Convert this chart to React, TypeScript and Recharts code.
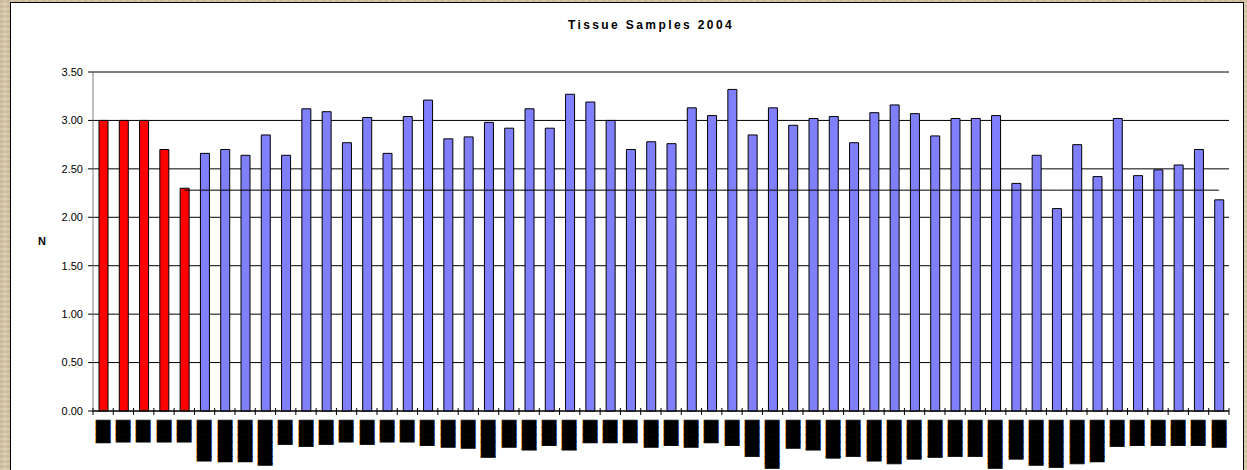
import React from 'react';
import { ComposedChart, Bar, Line, XAxis, YAxis, CartesianGrid, Cell, Label } from 'recharts';

const chartTitle = 'Tissue Samples 2004';
const yAxisTitle = 'N';

// Control samples (red)
const controlValues = [3.0, 3.0, 3.0, 2.7, 2.3];
// Tissue samples (blue)
const sampleValues = [
  2.66, 2.70, 2.64, 2.85, 2.64, 3.12, 3.09, 2.77, 3.03, 2.66,
  3.04, 3.21, 2.81, 2.83, 2.98, 2.92, 3.12, 2.92, 3.27, 3.19,
  3.00, 2.70, 2.78, 2.76, 3.13, 3.05, 3.32, 2.85, 3.13, 2.95,
  3.02, 3.04, 2.77, 3.08, 3.16, 3.07, 2.84, 3.02, 3.02, 3.05,
  2.35, 2.64, 2.09, 2.75, 2.42, 3.02, 2.43, 2.49, 2.54, 2.70,
  2.18,
];
// Threshold line value
const thresholdValue = 2.28;
const yTicks = [0, 0.5, 1, 1.5, 2, 2.5, 3, 3.5];

// Category labels: the original labels are rendered as solid black glyph blocks
const xLabels = [
  '███▏', '███', '███', '███', '███',
  '█████▋', '█████▊', '█████▊', '██████▎', '███▍', '███▋', '███▍', '███', '███▍', '███',
  '███', '███▌', '███▊', '███▉', '█████▏', '███▊', '████▏', '███▌', '████▏', '███▏',
  '███▏', '███▏', '███▊', '███▌', '███▊', '███▏', '███▌', '█████', '██████▋', '███▉',
  '████▏', '█████▎', '█████', '█████▋', '██████', '█████▍', '█████▏', '█████', '█████', '██████▋',
  '█████▍', '██████▎', '██████▌', '██████', '█████▊', '███▋', '███▌', '███▌', '███▌', '███▌',
  '███▊',
];

const CONTROL_COLOR = '#FF0000';
const SAMPLE_COLOR = '#8080FF';

const allValues = [...controlValues, ...sampleValues];
const data = allValues.map((v, i) => ({
  idx: i,
  value: v,
  threshold: i >= controlValues.length - 1 ? thresholdValue : null,
}));

const CHART_W = 1247;
const CHART_H = 470;
const MARGIN = { top: 72, right: 18, bottom: 0, left: 0 };
const Y_AXIS_W = 93;
const X_AXIS_H = 59;
const PLOT_W = CHART_W - MARGIN.left - MARGIN.right - Y_AXIS_W;
const BAND = PLOT_W / allValues.length;

const XTick = (props: any) => {
  const { x, y, payload } = props;
  const i = Number(payload?.value);
  const label = xLabels[i] ?? '';
  const half = BAND / 2;
  const isLast = i === allValues.length - 1;
  return (
    <g>
      <line x1={x - half} x2={x - half} y1={y - 3} y2={y + 4} stroke="#000" strokeWidth={1} />
      {isLast && <line x1={x + half} x2={x + half} y1={y - 3} y2={y + 4} stroke="#000" strokeWidth={1} />}
      <text
        transform={`translate(${x - 4.3},${y + 9.3}) rotate(90)`}
        fontFamily="'DejaVu Sans Mono', monospace"
        fontSize={12}
        fill="#000"
        stroke="#000"
        strokeWidth={0.6}
      >
        {label}
      </text>
    </g>
  );
};

export default function App() {
  return (
    <div
      style={{
        position: 'fixed',
        left: 0,
        top: 0,
        width: CHART_W,
        height: CHART_H,
        overflow: 'hidden',
        background: '#d7c9a9',
        backgroundImage:
          'repeating-linear-gradient(0deg, rgba(255,255,255,0.10) 0px, rgba(255,255,255,0.10) 2px, rgba(90,60,20,0.06) 2px, rgba(90,60,20,0.06) 5px), repeating-linear-gradient(90deg, rgba(120,90,50,0.07) 0px, rgba(120,90,50,0.07) 3px, rgba(255,255,255,0.06) 3px, rgba(255,255,255,0.06) 7px)',
      }}
    >
      <div
        style={{
          position: 'absolute',
          left: 10,
          top: 2,
          width: 1234,
          height: 480,
          background: '#fff',
          border: '1px solid #000',
          boxSizing: 'border-box',
        }}
      />
      <div
        style={{
          position: 'absolute',
          left: 0,
          top: 0,
          width: CHART_W,
          height: CHART_H,
        }}
      >
        <ComposedChart width={CHART_W} height={CHART_H} data={data} margin={MARGIN} barCategoryGap={0}>
          <CartesianGrid vertical={false} stroke="#000" strokeWidth={1} />
          <XAxis
            dataKey="idx"
            type="category"
            interval={0}
            height={X_AXIS_H}
            tickLine={false}
            tickSize={0}
            tickMargin={0}
            axisLine={{ stroke: '#000', strokeWidth: 1 }}
            tick={(p: any) => <XTick {...p} />}
          />
          <YAxis
            width={Y_AXIS_W}
            domain={[0, 3.5]}
            ticks={yTicks}
            interval={0}
            tickSize={5}
            tickMargin={5}
            axisLine={{ stroke: '#808080', strokeWidth: 1 }}
            tickLine={{ stroke: '#000', strokeWidth: 1 }}
            tick={{ fontSize: 11, fill: '#000', fontFamily: "'Liberation Sans', Arial, sans-serif" }}
            tickFormatter={(v: number) => v.toFixed(2)}
          >
            <Label
              value={yAxisTitle}
              position="insideLeft"
              offset={38}
              style={{ fontSize: 11, fontWeight: 'bold', fill: '#000', fontFamily: "'Liberation Sans', Arial, sans-serif" }}
            />
          </YAxis>
          <Bar dataKey="value" barSize={9} stroke="#000" strokeWidth={1} isAnimationActive={false}>
            {data.map((d, i) => (
              <Cell key={i} fill={i < controlValues.length ? CONTROL_COLOR : SAMPLE_COLOR} />
            ))}
          </Bar>
          <Line
            dataKey="threshold"
            stroke="#000"
            strokeWidth={1}
            dot={false}
            activeDot={false}
            connectNulls={false}
            isAnimationActive={false}
          />
        </ComposedChart>
      </div>
      <div
        style={{
          position: 'absolute',
          left: 451,
          width: 400,
          top: 17,
          textAlign: 'center',
          fontFamily: "'Liberation Sans', Arial, sans-serif",
          fontWeight: 'bold',
          fontSize: 12,
          letterSpacing: 2.4,
          color: '#000',
          lineHeight: '16px',
        }}
      >
        {chartTitle}
      </div>
    </div>
  );
}
